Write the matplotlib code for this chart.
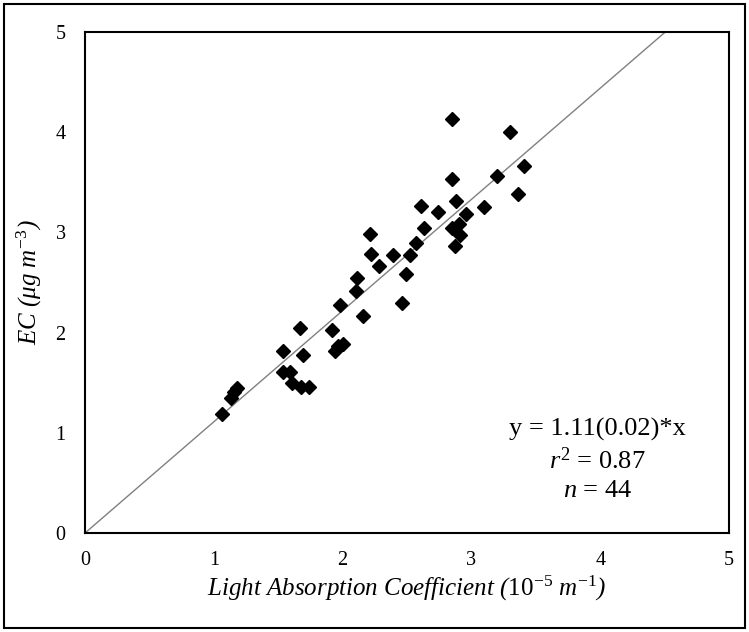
import matplotlib.pyplot as plt
import matplotlib.patches as patches
import numpy as np

plt.rcParams['font.family'] = ['Liberation Serif', 'DejaVu Serif']
plt.rcParams['mathtext.fontset'] = 'custom'
plt.rcParams['mathtext.rm'] = 'Liberation Serif'
plt.rcParams['mathtext.it'] = 'Liberation Serif:italic'

# light absorption coefficient (10^-5 m^-1) vs EC (ug m^-3)
absorption = [1.06, 1.13, 1.16, 1.18, 1.54, 1.54, 1.59, 1.61, 1.68, 1.74,
              1.67, 1.69, 1.92, 1.94, 1.96, 2.00, 1.98, 2.10, 2.11, 2.16,
              2.21, 2.22, 2.28, 2.39, 2.46, 2.49, 2.52, 2.57, 2.61, 2.63,
              2.74, 2.85, 2.85, 2.85, 2.87, 2.88, 2.90, 2.91, 2.96, 3.10,
              3.20, 3.30, 3.36, 3.41]
ec = [1.19, 1.35, 1.41, 1.45, 1.82, 1.61, 1.61, 1.50, 1.46, 1.46,
      2.05, 1.78, 2.03, 1.82, 1.87, 1.89, 2.28, 2.42, 2.54, 2.17,
      2.98, 2.78, 2.66, 2.77, 2.30, 2.58, 2.77, 2.89, 3.26, 3.04,
      3.20, 3.53, 4.13, 3.04, 2.86, 3.31, 3.08, 2.97, 3.18, 3.25,
      3.56, 4.00, 3.38, 3.66]

slope = 1.11
fit_x = np.array([0, 5])

fig = plt.figure(figsize=(7.49, 6.32), dpi=100)
ax = fig.add_axes([0.1135, 0.1566, 0.86, 0.7928])

ax.plot(fit_x, slope * fit_x, color='#808080', lw=1.0, zorder=1)
ax.plot(absorption, ec, linestyle='none', marker='D', color='black',
        markersize=7, zorder=2)

ax.set_xlim(0, 5)
ax.set_ylim(0, 5)
ax.set_xticks(range(6))
ax.set_yticks(range(6))
ax.tick_params(length=0, labelsize=14.5)
ax.tick_params(axis='x', pad=13)
ax.tick_params(axis='y', pad=14)
for s in ax.spines.values():
    s.set_linewidth(1.5)

ax.set_xlabel(r'Light Absorption Coefficient ($\mathit{10^{-5}\ m^{-1}}$)',
              fontsize=18, style='italic', labelpad=3)
ax.set_ylabel(r'EC ($\mathit{\mu g\ m^{-3}}$)', fontsize=18, style='italic',
              labelpad=8)

ax.text(3.98, 1.03, 'y = 1.11(0.02)*x', ha='center', va='center', fontsize=19)
ax.text(3.98, 0.72, r'$\mathit{r}^{2}$ = 0.87', ha='center', va='center', fontsize=19)
ax.text(3.98, 0.42, r'$\mathit{n}$ = 44', ha='center', va='center', fontsize=19)

# outer frame of the picture
fig.patches.append(patches.Rectangle((0.006, 0.006), 0.988, 0.988, fill=False,
                                     edgecolor='black', lw=1.5,
                                     transform=fig.transFigure))

fig.savefig('out.png', dpi=100)
